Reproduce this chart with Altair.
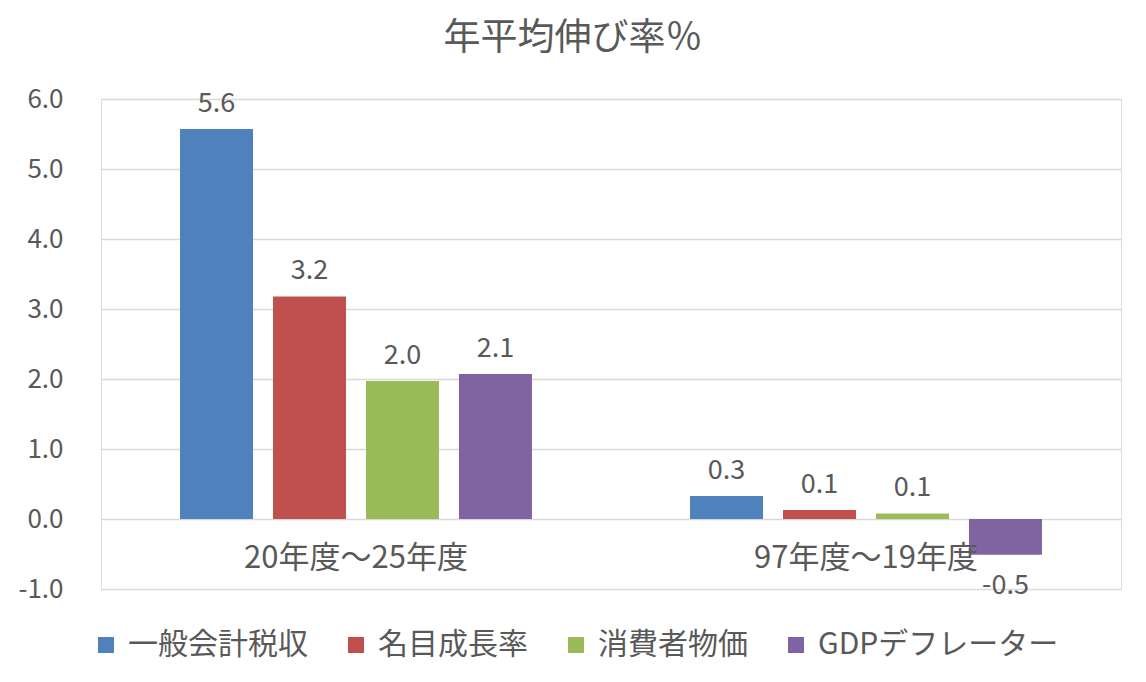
import altair as alt
import pandas as pd

groups = ["20年度～25年度", "97年度～19年度"]
series = ["一般会計税収", "名目成長率", "消費者物価", "GDPデフレーター"]
values_2025 = [5.57, 3.18, 1.97, 2.07]
values_9719 = [0.33, 0.13, 0.08, -0.51]
colors = ["#4F81BD", "#C0504D", "#9BBB59", "#8064A2"]
y_ticks = [-1, 0, 1, 2, 3, 4, 5, 6]

rows = []
for g, vals in zip(groups, [values_2025, values_9719]):
    for s, v in zip(series, vals):
        rows.append({"group": g, "series": s, "value": v})
df = pd.DataFrame(rows)
gdf = pd.DataFrame({"group": groups})

FONT = "Noto Sans CJK JP"
TXT = "#595959"
LBL = "replace(format(datum.value, '.1f'), '\u2212', '-')"

x_enc = alt.X("group:N", sort=groups, axis=None,
              scale=alt.Scale(paddingInner=0, paddingOuter=0))
xo_enc = alt.XOffset("series:N", sort=series,
                     scale=alt.Scale(paddingInner=0.215, paddingOuter=0.85))
y_enc = alt.Y("value:Q",
              scale=alt.Scale(domain=[-1, 6], nice=False, zero=False),
              axis=alt.Axis(values=y_ticks, labelExpr=LBL, title=None,
                            domain=False, ticks=False, labelPadding=38,
                            labelFontSize=26, labelColor=TXT, labelFont=FONT,
                            gridColor="#d9d9d9", gridWidth=1.5))

bars = alt.Chart(df).mark_bar().encode(
    x=x_enc,
    xOffset=xo_enc,
    y=y_enc,
    color=alt.Color("series:N", sort=series,
                    scale=alt.Scale(domain=series, range=colors),
                    legend=alt.Legend(title=None, orient="none", legendX=-10,
                                      legendY=531, direction="horizontal",
                                      columns=4, symbolType="square",
                                      symbolSize=256, symbolStrokeWidth=0,
                                      labelFontSize=30, labelFont=FONT,
                                      labelColor=TXT, columnPadding=33,
                                      labelOffset=7, labelLimit=0)),
)

labels = alt.Chart(df).transform_calculate(lbl=LBL)

pos_labels = labels.transform_filter("datum.value >= 0").mark_text(
    font=FONT, fontSize=27, color=TXT, baseline="alphabetic", dy=-17
).encode(x=x_enc, xOffset=xo_enc, y="value:Q", text="lbl:N")

neg_labels = labels.transform_filter("datum.value < 0").mark_text(
    font=FONT, fontSize=27, color=TXT, baseline="alphabetic", dy=39
).encode(x=x_enc, xOffset=xo_enc, y="value:Q", text="lbl:N")

cat_labels = alt.Chart(gdf).mark_text(
    font=FONT, fontSize=31, color=TXT, baseline="middle", dy=40
).encode(x=x_enc, y=alt.datum(0), text="group:N")

chart = alt.layer(bars, pos_labels, neg_labels, cat_labels).properties(
    width=1020, height=490,
    autosize=alt.AutoSizeParams(type="none"),
    padding={"left": 93, "top": 91, "right": 17, "bottom": 85},
    title=alt.Title("年平均伸び率％", fontSize=37, font=FONT, color=TXT,
                    fontWeight="normal", anchor="middle", dx=-38, offset=28),
).configure_view(stroke=None).configure(background="white")

chart.save("out.html", embed_options={"renderer": "svg", "actions": False})
